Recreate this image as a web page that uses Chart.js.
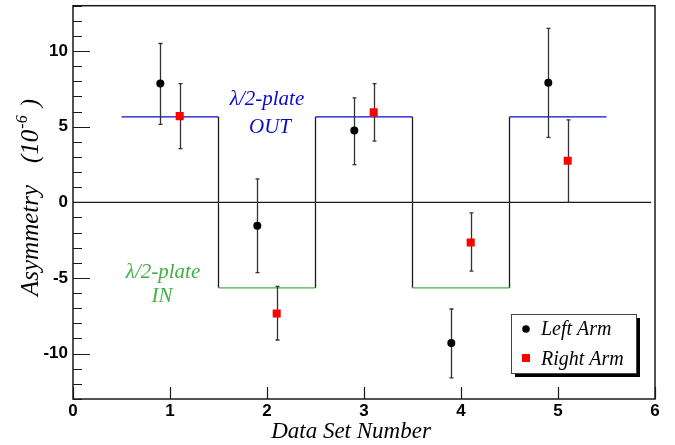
<!DOCTYPE html>
<html>
<head>
<meta charset="utf-8">
<script src="https://cdn.jsdelivr.net/npm/chart.js@4.4.0/dist/chart.umd.min.js"></script>
<style>
    html, body { margin: 0; padding: 0; background: #fff; }
    #wrap { width: 675px; height: 445px; }
</style>
</head>
<body>
<div id="wrap"><canvas id="asymChart" width="675" height="445"></canvas></div>
<script>
// Asymmetry per data set, left / right arm, with half-wave plate state

const leftX = [0.9, 1.9, 2.9, 3.9, 4.9];
const leftY = [7.85, -1.55, 4.75, -9.3, 7.9];
const leftLo = [5.15, -4.65, 2.5, -11.6, 4.3];
const leftHi = [10.5, 1.55, 6.9, -7.05, 11.5];

const rightX = [1.1, 2.1, 3.1, 4.1, 5.1];
const rightY = [5.7, -7.35, 5.95, -2.65, 2.75];
const rightLo = [3.55, -9.1, 4.05, -4.55, 0.0];
const rightHi = [7.85, -5.55, 7.85, -0.7, 5.45];

const plateEdges = [0.5, 1.5, 2.5, 3.5, 4.5, 5.5];
const plateLevels = [5.65, -5.65, 5.65, -5.65, 5.65];

const zeroLineX = [0, 5.96];

const xMin = 0, xMax = 6;
const yMin = -13, yMax = 13;
const yLabelStep = 5;

const BLUE = '#0a0acc';
const GREEN = '#44b044';
const RED = '#ff0000';
const INK = '#1a1a1a';
const SERIF = '"Liberation Serif", "Times New Roman", serif';
const SANS = '"Liberation Sans", Arial, sans-serif';

function toPoints(xs, ys) {
    return xs.map((x, i) => ({ x: x, y: ys[i] }));
}

// step outline for the plate state
const platePoints = [];
plateLevels.forEach((lvl, i) => {
    platePoints.push({ x: plateEdges[i], y: lvl });
    platePoints.push({ x: plateEdges[i + 1], y: lvl });
});

const errorBars = {
    0: { lo: leftLo, hi: leftHi },
    1: { lo: rightLo, hi: rightHi }
};

const errorBarPlugin = {
    id: 'errorBars',
    beforeDatasetDraw(chart, args) {
        const eb = errorBars[args.index];
        if (!eb) return;
        const ctx = chart.ctx;
        const xs = chart.scales.x, ys = chart.scales.y;
        const data = chart.data.datasets[args.index].data;
        ctx.save();
        ctx.strokeStyle = '#333';
        ctx.lineWidth = 1.3;
        data.forEach((p, i) => {
            const px = Math.round(xs.getPixelForValue(p.x)) + 0.5;
            const top = ys.getPixelForValue(eb.hi[i]);
            const bot = ys.getPixelForValue(eb.lo[i]);
            ctx.beginPath();
            ctx.moveTo(px, top);
            ctx.lineTo(px, bot);
            ctx.moveTo(px - 2, top);
            ctx.lineTo(px + 2, top);
            ctx.moveTo(px - 2, bot);
            ctx.lineTo(px + 2, bot);
            ctx.stroke();
        });
        ctx.restore();
    }
};

const framePlugin = {
    id: 'frame',
    afterDraw(chart) {
        const ctx = chart.ctx;
        const a = chart.chartArea;
        const xs = chart.scales.x, ys = chart.scales.y;
        ctx.save();

        // frame
        ctx.strokeStyle = INK;
        ctx.lineWidth = 1.5;
        ctx.strokeRect(a.left, a.top, a.right - a.left, a.bottom - a.top);

        // inside ticks, left axis
        ctx.lineWidth = 1.2;
        ctx.beginPath();
        ys.ticks.forEach(t => {
            const py = Math.round(ys.getPixelForValue(t.value)) + 0.5;
            const len = (t.value % yLabelStep === 0) ? 17 : 9;
            ctx.moveTo(a.left, py);
            ctx.lineTo(a.left + len, py);
        });
        // inside ticks, bottom axis
        xs.ticks.forEach(t => {
            const px = Math.round(xs.getPixelForValue(t.value)) + 0.5;
            ctx.moveTo(px, a.bottom);
            ctx.lineTo(px, a.bottom - 12);
        });
        ctx.stroke();

        // axis titles
        ctx.fillStyle = '#000';
        ctx.font = 'italic 23px ' + SERIF;
        ctx.textAlign = 'center';
        ctx.textBaseline = 'alphabetic';
        ctx.fillText('Data Set Number', 351, 438);

        ctx.save();
        ctx.translate(38, 296);
        ctx.rotate(-Math.PI / 2);
        ctx.textAlign = 'left';
        ctx.font = 'italic 25px ' + SERIF;
        ctx.fillText('Asymmetry', 0, 0);
        let rx = 133;
        ctx.fillText('(10', rx, 0);
        rx += ctx.measureText('(10').width;
        ctx.font = 'italic 16px ' + SERIF;
        ctx.fillText('-6', rx + 1, -11);
        rx += ctx.measureText('-6').width + 9;
        ctx.font = 'italic 25px ' + SERIF;
        ctx.fillText(')', rx, 0);
        ctx.restore();

        // plate labels
        ctx.font = 'italic 21px ' + SERIF;
        ctx.textAlign = 'center';
        ctx.fillStyle = BLUE;
        ctx.fillText('\u03BB/2-plate', 267, 105);
        ctx.fillText('OUT', 270, 133);
        ctx.fillStyle = GREEN;
        ctx.fillText('\u03BB/2-plate', 163, 278);
        ctx.fillText('IN', 162, 302);

        // legend box with drop shadow
        const bx = 511, by = 314, bw = 125, bh = 59;
        ctx.fillStyle = '#000';
        ctx.fillRect(bx + 4, by + 4, bw, bh);
        ctx.fillStyle = '#fff';
        ctx.fillRect(bx, by, bw, bh);
        ctx.strokeStyle = '#444';
        ctx.lineWidth = 1;
        ctx.strokeRect(bx + 0.5, by + 0.5, bw, bh);

        ctx.fillStyle = '#000';
        ctx.beginPath();
        ctx.arc(526, 329, 3.8, 0, Math.PI * 2);
        ctx.fill();
        ctx.fillStyle = RED;
        ctx.fillRect(522, 354, 8, 8);

        ctx.fillStyle = '#000';
        ctx.font = 'italic 20px ' + SERIF;
        ctx.textAlign = 'left';
        ctx.fillText('Left Arm', 541, 335);
        ctx.fillText('Right Arm', 541, 365);

        ctx.restore();
    }
};

let asymChart = null;

function initAsymChart() {
    const canvas = document.getElementById('asymChart');
    if (!canvas) return;

    if (asymChart) {
        asymChart.destroy();
    }

    asymChart = new Chart(canvas, {
        type: 'scatter',
        data: {
            datasets: [
                {
                    label: 'Left Arm',
                    data: toPoints(leftX, leftY),
                    pointStyle: 'circle',
                    pointRadius: 4,
                    backgroundColor: '#000',
                    borderColor: '#000',
                    borderWidth: 0
                },
                {
                    label: 'Right Arm',
                    data: toPoints(rightX, rightY),
                    pointStyle: 'rect',
                    pointRadius: 5.7,
                    backgroundColor: RED,
                    borderColor: RED,
                    borderWidth: 0
                },
                {
                    label: 'plate',
                    data: platePoints,
                    showLine: true,
                    pointRadius: 0,
                    borderWidth: 1.3,
                    borderColor: BLUE,
                    segment: {
                        borderColor: c => c.p0.parsed.x === c.p1.parsed.x ? INK
                            : (c.p0.parsed.y > 0 ? BLUE : GREEN)
                    }
                },
                {
                    label: 'zero',
                    data: zeroLineX.map(x => ({ x: x, y: 0 })),
                    showLine: true,
                    pointRadius: 0,
                    borderWidth: 1.2,
                    borderColor: INK
                }
            ]
        },
        options: {
            responsive: false,
            animation: false,
            layout: {
                padding: { left: 0, right: 20, top: 5, bottom: 0 }
            },
            plugins: {
                legend: { display: false },
                tooltip: { enabled: false },
                title: { display: false }
            },
            scales: {
                x: {
                    type: 'linear',
                    min: xMin,
                    max: xMax,
                    grid: { display: false, drawTicks: false },
                    border: { display: false },
                    ticks: {
                        stepSize: 1,
                        color: '#000',
                        padding: 2,
                        font: { family: SANS, size: 17, weight: 'bold' }
                    },
                    afterFit: s => {
                        s.height = 46;
                        s.paddingLeft = 0;
                        s.paddingRight = 0;
                    }
                },
                y: {
                    type: 'linear',
                    min: yMin,
                    max: yMax,
                    grid: { display: false, drawTicks: false },
                    border: { display: false },
                    ticks: {
                        stepSize: 1,
                        autoSkip: false,
                        color: '#000',
                        padding: 5,
                        font: { family: SANS, size: 17, weight: 'bold' },
                        callback: v => (v % yLabelStep === 0 ? v : '')
                    },
                    afterFit: s => {
                        s.width = 73;
                        s.paddingTop = 0;
                        s.paddingBottom = 0;
                    }
                }
            }
        },
        plugins: [errorBarPlugin, framePlugin]
    });
}

initAsymChart();
</script>
</body>
</html>
